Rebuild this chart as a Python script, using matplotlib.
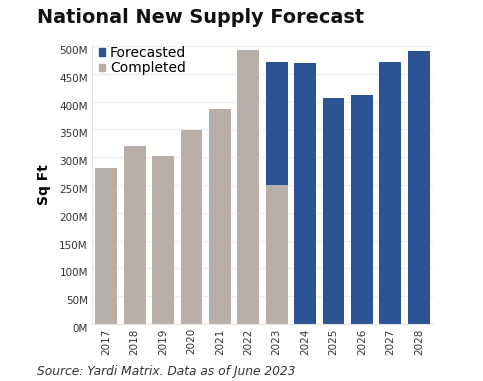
import matplotlib
matplotlib.use("Agg")
import matplotlib.pyplot as plt
import matplotlib.transforms as mtransforms
from matplotlib.patches import Patch

years = ["2017", "2018", "2019", "2020", "2021", "2022", "2023", "2024", "2025", "2026", "2027", "2028"]
completed = [280, 320, 302, 349, 387, 493, 250, 0, 0, 0, 0, 0]
forecasted = [0, 0, 0, 0, 0, 0, 221, 469, 406, 412, 471, 491]
yticks = [0, 50, 100, 150, 200, 250, 300, 350, 400, 450, 500]
ytick_labels = ["0M", "50M", "100M", "150M", "200M", "250M", "300M", "350M", "400M", "450M", "500M"]

grey = "#b8afa9"
blue = "#2c5494"

fig = plt.figure(figsize=(4.83, 3.81), dpi=100)
ax = fig.add_axes([0.1905, 0.1496, 0.706, 0.7294])

x = list(range(len(years)))
ax.bar(x, completed, width=0.77, color=grey, zorder=2)
ax.bar(x, forecasted, width=0.77, bottom=completed, color=blue, zorder=2)

ax.set_xlim(-0.5, 11.5)
ax.set_ylim(0, 500)
ax.set_yticks(yticks)
ax.set_yticklabels(ytick_labels)
ax.set_xticks(x)
ax.set_xticklabels(years, rotation=90)
ax.tick_params(axis="y", length=0, labelsize=7.5, labelcolor="#333333", pad=3)
ax.tick_params(axis="x", length=0, labelsize=7.5, labelcolor="#333333", pad=3)
offset = mtransforms.ScaledTranslation(0, -4 / 100, fig.dpi_scale_trans)
for lab in ax.get_yticklabels():
    lab.set_transform(lab.get_transform() + offset)
ax.grid(axis="y", color="#efefef", linewidth=1, zorder=0)
for s in ["top", "right"]:
    ax.spines[s].set_visible(False)
for s in ["left", "bottom"]:
    ax.spines[s].set_color("#e6e6e6")
    ax.spines[s].set_linewidth(0.8)

ax.set_ylabel("Sq Ft", fontsize=10, fontweight="bold", labelpad=6)

handles = [Patch(color=blue, label="Forecasted"), Patch(color=grey, label="Completed")]
ax.legend(handles=handles, loc="upper left", bbox_to_anchor=(-0.005, 1.03), frameon=False,
          fontsize=10, handlelength=0.45, handleheight=0.45, handletextpad=0.35,
          labelspacing=0.1, borderaxespad=0.2)

fig.text(0.077, 0.953, "National New Supply Forecast", fontsize=13.9, fontweight="bold",
         ha="left", va="center", color="#111111")
fig.text(0.077, 0.024, "Source: Yardi Matrix. Data as of June 2023", fontsize=8.8,
         style="italic", ha="left", va="center", color="#333333")

fig.savefig("out.png", dpi=100)
